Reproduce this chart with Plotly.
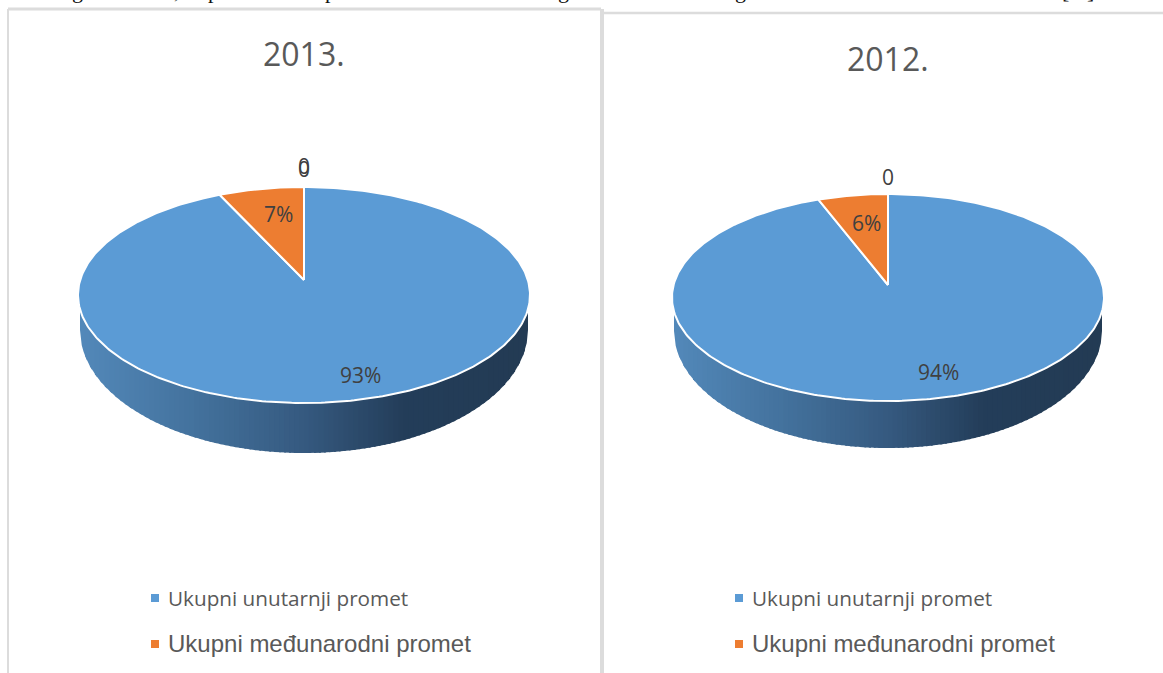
import numpy as np
import plotly.graph_objects as go

# ---------- data ----------
categories = ["Ukupni unutarnji promet", "Ukupni međunarodni promet"]
years = ["2013.", "2012."]
shares_2013 = [93, 7]
shares_2012 = [94, 6]
zero_labels_2013 = ["0", "0"]
zero_labels_2012 = ["0"]

# ---------- styling / geometry ----------
BLUE, ORANGE = "#5b9bd5", "#ed7d31"
GREY_TXT, DARK_TXT, FRAME = "#595959", "#404040", "#dcdcdc"
FORESHORTEN = 0.87   # 3-D tilt squeezes the small wedge's angle on the rim
GRAD = [(0, (83, 137, 186)), (.25, (68, 115, 158)), (.5, (54, 90, 128)),
        (.72, (36, 62, 90)), (1, (35, 59, 84))]

pies = [
    dict(year=years[0], shares=shares_2013, cx=304, cy=295, rx=226, ry=108, apex=15,
         depth_cy=330, rxb=224, ryb=123, title_y=53, zero_y=[166, 169], leg_dx=0,
         big=(360, 375), small=(278, 214)),
    dict(year=years[1], shares=shares_2012, cx=888, cy=297.5, rx=216, ry=103.5, apex=12.5,
         depth_cy=331, rxb=214, ryb=117, title_y=58, zero_y=[177], leg_dx=584,
         big=(938, 372), small=(866, 223)),
]


def grad_col(f):
    for (a, ca), (b, cb) in zip(GRAD, GRAD[1:]):
        if f <= b:
            w = (f - a) / (b - a)
            return "rgb(%d,%d,%d)" % tuple(ca[i] + (cb[i] - ca[i]) * w for i in range(3))
    return "rgb(35,59,84)"


fig = go.Figure()
annots = []


def text(x, y, s, size, color, family="Open Sans", xanchor="center", yanchor="middle"):
    annots.append(dict(x=x, y=y, text=s, showarrow=False, xanchor=xanchor, yanchor=yanchor,
                       font=dict(size=size, color=color, family=family), borderpad=0, borderwidth=0))


for p in pies:
    cx, cy, rx, ry = p["cx"], p["cy"], p["rx"], p["ry"]
    # side wall: overlapping vertical gradient slices between the top rim and the base rim
    left, right = cx - p["rxb"], cx + p["rxb"]
    xs = np.linspace(left, right, 91)
    for x0, x1 in zip(xs[:-1], xs[1:]):
        xx = np.linspace(x0, min(x1 + 2, right), 5)
        top = cy + ry * np.sqrt(np.clip(1 - ((xx - cx) / rx) ** 2, 0, 1)) - 2
        bot = p["depth_cy"] + p["ryb"] * np.sqrt(np.clip(1 - ((xx - cx) / p["rxb"]) ** 2, 0, 1))
        col = grad_col(((x0 + x1) / 2 - left) / (right - left))
        fig.add_trace(go.Scatter(x=np.r_[xx, xx[::-1]], y=np.r_[top, bot[::-1]], mode="lines",
                                 fill="toself", fillcolor=col, line=dict(color=col, width=0),
                                 hoverinfo="skip", showlegend=False))
    # top face
    a = np.radians(p["shares"][1] * 3.6 * FORESHORTEN)
    ax_, ay_ = cx, cy - p["apex"]
    t_blue = np.linspace(0, 2 * np.pi - a, 361)
    t_or = np.linspace(2 * np.pi - a, 2 * np.pi, 30)
    for t, col in ((t_blue, BLUE), (t_or, ORANGE)):
        fig.add_trace(go.Scatter(x=np.r_[ax_, cx + rx * np.sin(t), ax_],
                                 y=np.r_[ay_, cy - ry * np.cos(t), ay_], mode="lines",
                                 fill="toself", fillcolor=col,
                                 line=dict(color="white", width=2),
                                 hoverinfo="skip", showlegend=False))
    # labels
    text(cx, p["title_y"], p["year"], 32, GREY_TXT)
    text(p["big"][0], p["big"][1], "%d%%" % p["shares"][0], 21, DARK_TXT)
    text(p["small"][0], p["small"][1], "%d%%" % p["shares"][1], 21, DARK_TXT)
    zeros = zero_labels_2013 if p["year"] == years[0] else zero_labels_2012
    for z, zy in zip(zeros, p["zero_y"]):
        text(cx, zy, z, 21, DARK_TXT)
    # legend
    d = p["leg_dx"]
    for cat, col, ly, fam, sz in ((categories[0], BLUE, 598, "Open Sans", 20.7),
                                  (categories[1], ORANGE, 644, "Liberation Sans", 24)):
        fig.add_trace(go.Scatter(x=[155 + d], y=[ly], mode="markers",
                                 marker=dict(symbol="square", size=8, color=col),
                                 hoverinfo="skip", showlegend=False))
        text(168 + d, ly - 0.5, cat, sz, GREY_TXT, family=fam, xanchor="left")

# clipped line of document text above the charts (only descenders show)
for gx, g in ((77, "g"), (177, ","), (213, "p"), (330, "p"), (563, "g"), (740, "g"),
              (1065, "["), (1090, "]")):
    text(gx, 3, g, 22, "#111111", family="Liberation Serif", yanchor="bottom")

# panel frames
shapes = []
for x0, y0, x1, y1, w in ((8, 9, 8, 673, 2), (8, 9, 601, 9, 3), (602, 9, 602, 673, 4),
                          (604, 13, 1163, 13, 2.5)):
    shapes.append(dict(type="line", x0=x0, y0=y0, x1=x1, y1=y1, layer="below",
                       line=dict(color=FRAME, width=w)))

fig.update_layout(
    width=1163, height=673, margin=dict(l=0, r=0, t=0, b=0), autosize=False,
    paper_bgcolor="white", plot_bgcolor="white", showlegend=False,
    xaxis=dict(range=[0, 1163], visible=False, fixedrange=True),
    yaxis=dict(range=[673, 0], visible=False, fixedrange=True),
    annotations=annots, shapes=shapes,
)
fig.write_html("out.html", config=dict(displayModeBar=False),
               post_script="document.body.style.margin='0';document.body.style.overflow='hidden';")
